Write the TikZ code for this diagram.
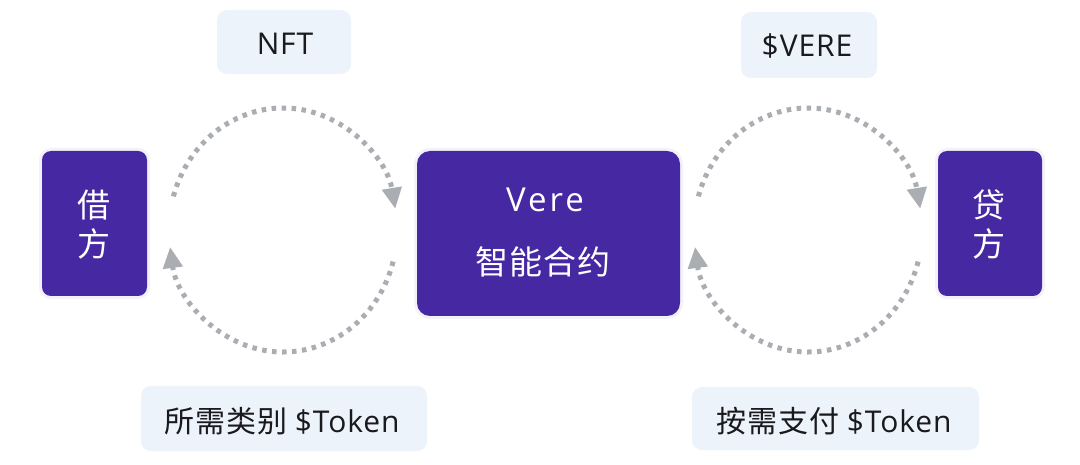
\documentclass[tikz,border=0pt]{standalone}
\usepackage{fontspec}
\setmainfont{Open Sans}
\newfontfamily\lat[LetterSpace=3]{Open Sans}
\newfontfamily\cjk[LetterSpace=3]{Noto Sans CJK SC}
\usetikzlibrary{arrows.meta}
\definecolor{vpurple}{RGB}{69,40,162}
\definecolor{labelbg}{RGB}{237,243,250}
\definecolor{dotgrey}{RGB}{170,174,179}
\definecolor{txt}{RGB}{25,25,30}
\tikzset{
  party/.style={fill=vpurple, rounded corners=9pt, inner sep=0pt,
    preaction={draw=vpurple, draw opacity=0.06, line width=6pt}},
  tag/.style={fill=labelbg, rounded corners=10pt, inner sep=0pt},
  flow/.style={draw=dotgrey, line width=5pt, dash pattern=on 4.5pt off 5.5pt,
    -{Triangle[length=21pt,width=19pt,fill=dotgrey]}},
  wtext/.style={text=white, align=center},
  btext/.style={text=txt}
}
\begin{document}
\begin{tikzpicture}[x=1pt,y=1pt]
\useasboundingbox (0,0) rectangle (1080,464);
\fill[white] (0,0) rectangle (1080,464);
% boxes
\node[party, minimum width=105pt, minimum height=145pt] (lend) at (94.5,240.5) {};
\node[party, minimum width=263pt, minimum height=165pt, rounded corners=13pt] (vere) at (548.5,230.5) {};
\node[party, minimum width=104pt, minimum height=145pt] (lender) at (990,240.5) {};
\node[wtext, font=\cjk\fontsize{33}{39}\selectfont] (lendt) at (94,239.5) {借\\方};
\node[wtext, font=\cjk\fontsize{33}{39}\selectfont] (lendert) at (989,239.5) {贷\\方};
\node[wtext, font=\lat\fontsize{33}{40}\selectfont, text=white] (veret) at (545,264) {\addfontfeature{LetterSpace=9}Vere};
\node[wtext, font=\cjk\fontsize{33}{40}\selectfont] (verecn) at (543,202) {智能合约};
% labels
\node[tag, minimum width=134pt, minimum height=64pt] (nftbox) at (284,422) {};
\node[btext, font=\lat\fontsize{30}{36}\selectfont] (nft) at (285,420) {NFT};
\node[tag, minimum width=136pt, minimum height=66pt] (verebox) at (809,419) {};
\node[btext, font=\lat\fontsize{30}{36}\selectfont] (vtok) at (807,418) {\$VERE};
\node[tag, minimum width=286pt, minimum height=65pt] (needbox) at (284,45.5) {};
\node[btext, font=\fontsize{30}{36}\selectfont] (need) at (282,43) {{\cjk 所需类别} {\lat\$Token}};
\node[tag, minimum width=287pt, minimum height=63pt] (paybox) at (835.5,45.5) {};
\node[btext, font=\fontsize{30}{36}\selectfont] (pay) at (834,43) {{\cjk 按需支付} {\lat\$Token}};
% flows
\coordinate (cl) at (283,234);
\coordinate (cr) at (808,234);
\draw[flow] ([shift={(164:114pt and 122pt)}]cl) arc[start angle=164, end angle=10, x radius=114pt, y radius=122pt];
\draw[flow] ([shift={(-15:114pt and 122pt)}]cl) arc[start angle=-15, end angle=-172, x radius=114pt, y radius=122pt];
\draw[flow] ([shift={(164:114pt and 122pt)}]cr) arc[start angle=164, end angle=10, x radius=114pt, y radius=122pt];
\draw[flow] ([shift={(-15:114pt and 122pt)}]cr) arc[start angle=-15, end angle=-172, x radius=114pt, y radius=122pt];
\end{tikzpicture}
\end{document}
